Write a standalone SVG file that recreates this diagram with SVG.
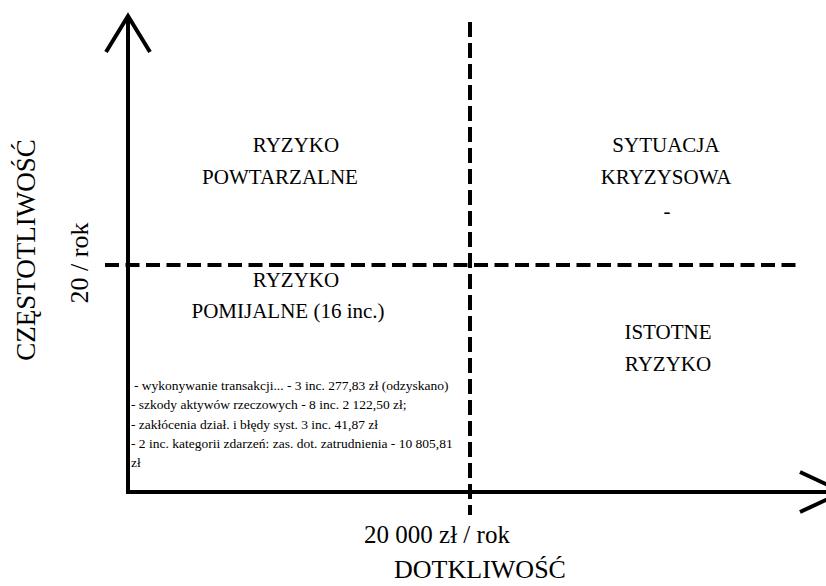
<svg xmlns="http://www.w3.org/2000/svg" width="826" height="586" viewBox="0 0 826 586">
<style>
.ax{fill:none;stroke:#000;stroke-width:4;stroke-linecap:butt;stroke-linejoin:miter}
.dv{fill:none;stroke:#000;stroke-width:4;stroke-dasharray:15 6}
.dh{fill:none;stroke:#000;stroke-width:4;stroke-dasharray:14 6.5}
text{font-family:"Liberation Serif","Times New Roman",serif;fill:#000}
.q{font-size:21px;text-anchor:middle}
.s{font-size:13.5px}
.big{font-size:26px;text-anchor:middle}
</style>
<rect width="826" height="586" fill="#fff"/>
<g id="connectors">
<line class="ax" x1="128" y1="18" x2="128" y2="494"/>
<polyline class="ax" points="106,52 128,16 150,52"/>
<line class="ax" x1="126" y1="492" x2="840" y2="492"/>
<polyline class="ax" points="800,472 843,492 800,512"/>
<line class="dv" x1="470" y1="22" x2="470" y2="515"/>
<line class="dh" x1="105" y1="265" x2="802" y2="265"/>
</g>
<g id="q-powtarzalne" font-family="Liberation Serif, serif">
<text class="q" x="296" y="152">RYZYKO</text>
<text class="q" x="280" y="184">POWTARZALNE</text>
</g>
<g id="q-kryzysowa" font-family="Liberation Serif, serif">
<text class="q" x="666" y="152">SYTUACJA</text>
<text class="q" x="666" y="184">KRYZYSOWA</text>
<text class="q" x="667" y="218">-</text>
</g>
<g id="q-pomijalne" font-family="Liberation Serif, serif">
<text class="q" x="296" y="287">RYZYKO</text>
<text class="q" x="288" y="318">POMIJALNE (16 inc.)</text>
</g>
<g id="q-istotne" font-family="Liberation Serif, serif">
<text class="q" x="668" y="339">ISTOTNE</text>
<text class="q" x="668" y="371">RYZYKO</text>
</g>
<g id="list" font-family="Liberation Serif, serif">
<text class="s" x="134" y="390">- wykonywanie transakcji... - 3 inc. 277,83 zł (odzyskano)</text>
<text class="s" x="131" y="409">- szkody aktywów rzeczowych - 8 inc. 2 122,50 zł;</text>
<text class="s" x="131" y="429">- zakłócenia dział. i błędy syst. 3 inc. 41,87 zł</text>
<text class="s" x="131" y="448">- 2 inc. kategorii zdarzeń: zas. dot. zatrudnienia - 10 805,81</text>
<text class="s" x="131" y="467">zł</text>
</g>
<g id="axis-labels" font-family="Liberation Serif, serif">
<text class="big" x="437" y="543" style="font-size:25px">20 000 zł / rok</text>
<text class="big" x="480" y="578">DOTKLIWOŚĆ</text>
<text class="big" transform="translate(35,250) rotate(-90)" style="font-size:27px">CZĘSTOTLIWOŚĆ</text>
<text class="big" transform="translate(88,263) rotate(-90)">20 / rok</text>
</g>
</svg>
